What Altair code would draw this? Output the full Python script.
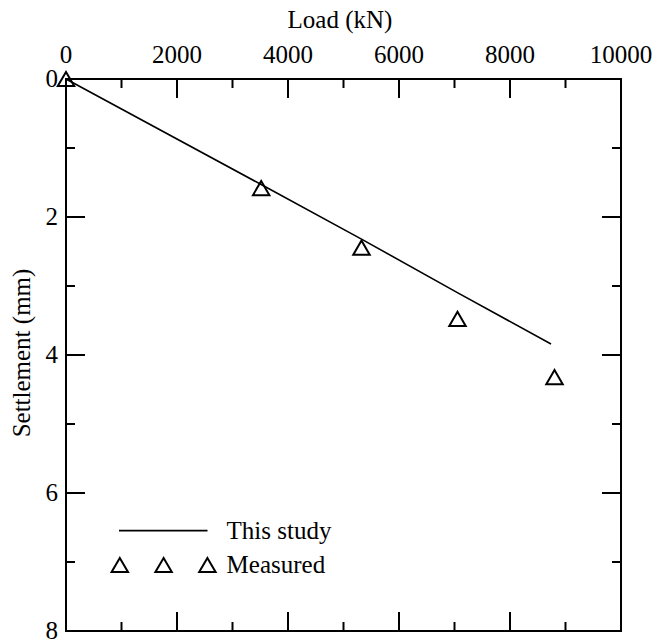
import altair as alt
import pandas as pd

# ---- data ----
load_calc = [0, 3517, 5324, 7060, 8739]
settle_calc = [0, 1.53, 2.32, 3.10, 3.84]

load_meas = [0, 3517, 5324, 7054, 8802]
settle_meas = [0, 1.58, 2.445, 3.475, 4.32]

x_major = [0, 2000, 4000, 6000, 8000, 10000]
x_minor = [1000, 3000, 5000, 7000, 9000]
y_major = [0, 2, 4, 6, 8]
y_minor = [1, 3, 5, 7]

x_title = "Load (kN)"
y_title = "Settlement (mm)"
legend_labels = ["This study", "Measured"]

# ---- layout / style ----
W, H = 555, 552
FONT = "Liberation Serif"
FS = 25
MAJ, MIN = 19, 9

xs = alt.Scale(domain=[0, 10000], nice=False, zero=False)
ys = alt.Scale(domain=[0, 8], reverse=True, nice=False, zero=False)

X = lambda f: alt.X(f, scale=xs, axis=None)
Y = lambda f: alt.Y(f, scale=ys, axis=None)

calc_df = pd.DataFrame({"load": load_calc, "settle": settle_calc})
meas_df = pd.DataFrame({"load": load_meas, "settle": settle_meas})

line = alt.Chart(calc_df).mark_line(color="black", strokeWidth=1.6).encode(
    x=X("load:Q"), y=Y("settle:Q"))

points = alt.Chart(meas_df).mark_point(
    shape="triangle-up", size=270, filled=False, color="black", strokeWidth=2, opacity=1
).encode(x=X("load:Q"), y=Y("settle:Q"))

def xticks(vals, length, bottom):
    df = pd.DataFrame({"load": vals})
    y0 = H if bottom else 0
    y1 = H - length if bottom else length
    return alt.Chart(df).mark_rule(color="black", strokeWidth=2).encode(
        x=X("load:Q"), y=alt.value(y0), y2=alt.value(y1))

def yticks(vals, length, right):
    df = pd.DataFrame({"settle": vals})
    x0 = W if right else 0
    x1 = W - length if right else length
    return alt.Chart(df).mark_rule(color="black", strokeWidth=2).encode(
        y=Y("settle:Q"), x=alt.value(x0), x2=alt.value(x1))

ticks = [
    xticks(x_major, MAJ, False), xticks(x_minor, MIN, False),
    xticks(x_major, MAJ, True), xticks(x_minor, MIN, True),
    yticks(y_major, MAJ, False), yticks(y_minor, MIN, False),
    yticks(y_major, MAJ, True), yticks(y_minor, MIN, True),
]

txt = dict(font=FONT, fontSize=FS, color="black")

# tick labels (top x axis, left y axis)
xlabels = alt.Chart(pd.DataFrame({"load": x_major})).mark_text(
    align="center", baseline="alphabetic", **txt
).encode(x=X("load:Q"), y=alt.value(-16), text=alt.Text("load:Q", format="d"))

ylabels = alt.Chart(pd.DataFrame({"settle": y_major})).mark_text(
    align="right", baseline="middle", **txt
).encode(y=Y("settle:Q"), x=alt.value(-8), text=alt.Text("settle:Q", format="d"))

one = pd.DataFrame({"k": [0]})
xtitle = alt.Chart(one).mark_text(align="center", baseline="alphabetic", **txt).encode(
    x=alt.value(274), y=alt.value(-51.5), text=alt.value(x_title))
ytitle = alt.Chart(one).mark_text(align="center", baseline="alphabetic", angle=270, **txt).encode(
    x=alt.value(-36), y=alt.value(274), text=alt.value(y_title))

# ---- legend drawn inside the plot ----
leg_line = alt.Chart(one).mark_rule(color="black", strokeWidth=1.6).encode(
    x=alt.value(53), x2=alt.value(141.5), y=alt.value(451.6))
leg_tris = [
    alt.Chart(one).mark_point(shape="triangle-up", size=270, filled=False,
                              color="black", strokeWidth=2, opacity=1).encode(
        x=alt.value(px), y=alt.value(486))
    for px in (53.8, 97.6, 141.4)
]
leg_text = [
    alt.Chart(one).mark_text(align="left", baseline="middle", **txt).encode(
        x=alt.value(160.6), y=alt.value(py), text=alt.value(lab))
    for lab, py in zip(legend_labels, (451.6, 486))
]

chart = alt.layer(line, points, *ticks, xlabels, ylabels, xtitle, ytitle,
                  leg_line, *leg_tris, *leg_text).properties(
    width=W, height=H,
    autosize=alt.AutoSizeParams(type="none"),
    padding={"left": 66, "top": 79, "right": 33, "bottom": 10},
).configure_view(
    stroke="black", strokeWidth=2
)

chart.save("out.html", embed_options={"renderer": "svg", "actions": False})
